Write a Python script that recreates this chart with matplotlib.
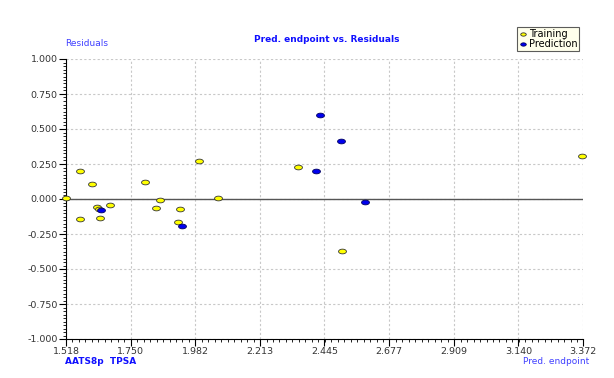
import numpy as np
import matplotlib
matplotlib.use("Agg")
import matplotlib.pyplot as plt
from matplotlib.path import Path
from matplotlib.ticker import AutoMinorLocator, FixedLocator

# training set: predicted endpoint vs residual
train_x = [1.517, 1.567, 1.567, 1.612, 1.630, 1.635, 1.639, 1.677, 1.801, 1.840,
           1.856, 1.927, 1.920, 1.996, 2.064, 2.349, 2.508, 3.370]
train_y = [0.007, 0.198, -0.145, 0.107, -0.055, -0.069, -0.133, -0.040, 0.124, -0.062,
           -0.007, -0.071, -0.162, 0.271, 0.010, 0.229, -0.369, 0.307]

# prediction set
pred_x = [1.642, 1.935, 2.415, 2.429, 2.504, 2.591]
pred_y = [-0.081, -0.193, 0.202, 0.600, 0.412, -0.019]

x_ticks = [1.518, 1.750, 1.982, 2.213, 2.445, 2.677, 2.909, 3.140, 3.372]
y_ticks = [-1.0, -0.75, -0.5, -0.25, 0.0, 0.25, 0.5, 0.75, 1.0]

# flat ellipse marker
t = np.linspace(0, 2 * np.pi, 40)
ellipse = Path(np.column_stack([np.cos(t), 0.6 * np.sin(t)]), closed=True)

fig = plt.figure(figsize=(6.14, 3.78), dpi=100)
ax = fig.add_axes([66 / 614, 1 - 339 / 378, 517 / 614, 280 / 378])

ax.set_xlim(x_ticks[0], x_ticks[-1])
ax.set_ylim(-1.0, 1.0)
ax.xaxis.set_major_locator(FixedLocator(x_ticks))
ax.yaxis.set_major_locator(FixedLocator(y_ticks))
ax.xaxis.set_minor_locator(AutoMinorLocator(10))
ax.yaxis.set_minor_locator(AutoMinorLocator(10))
ax.set_xticklabels(['%.3f' % v for v in x_ticks])
ax.set_yticklabels(['%.3f' % v for v in y_ticks])
ax.tick_params(which='major', length=5, width=0.8, labelsize=6.8, labelcolor='#333333', pad=1)
ax.tick_params(which='minor', length=2.5, width=0.6)

for s in ('top', 'right'):
    ax.spines[s].set_visible(False)
ax.grid(True, which='major', linestyle=(0, (2, 2)), color='#c8c8c8', linewidth=0.8)
ax.axhline(0, color='#555555', linewidth=1.0, zorder=2.5)

ax.scatter(train_x, train_y, marker=ellipse, s=32, facecolor='#FFFF00',
           edgecolor='#333333', linewidths=0.6, label='Training', zorder=3, clip_on=False)
ax.scatter(pred_x, pred_y, marker=ellipse, s=32, facecolor='#0000EE',
           edgecolor='#000060', linewidths=0.6, label='Prediction', zorder=3, clip_on=False)

fig.text(327 / 614, 1 - 39 / 378, 'Pred. endpoint vs. Residuals', ha='center', va='center',
         fontsize=6.5, fontweight='bold', color='#1010FF')
fig.text(65 / 614, 1 - 44 / 378, 'Residuals', ha='left', va='center',
         fontsize=6.5, color='#4040FF')
fig.text(65 / 614, 1 - 361 / 378, 'AATS8p  TPSA', ha='left', va='center',
         fontsize=6.5, fontweight='bold', color='#1010FF')
fig.text(589 / 614, 1 - 361 / 378, 'Pred. endpoint', ha='right', va='center',
         fontsize=6.5, color='#4040FF')

leg = fig.legend(loc='upper right', bbox_to_anchor=(584 / 614, 1 - 22 / 378), fontsize=7,
                 frameon=True, fancybox=False, edgecolor='#333333', facecolor='#FFFFE8',
                 handletextpad=0.2, borderpad=0.2, labelspacing=0.0, handlelength=0.8,
                 markerscale=0.7)
leg.get_frame().set_linewidth(0.8)

fig.savefig('out.png', dpi=100)
